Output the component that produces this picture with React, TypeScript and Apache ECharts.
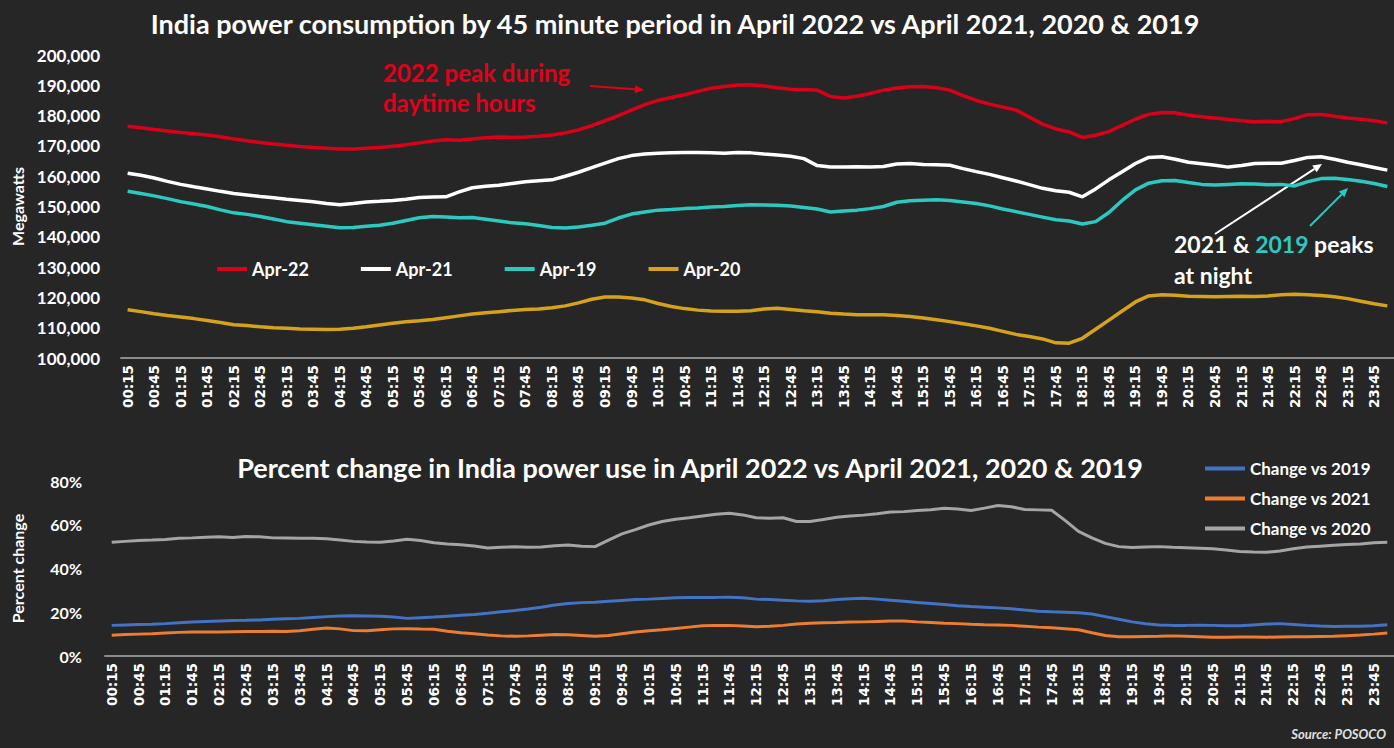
import React, { useEffect, useRef } from "react";
import * as echarts from "echarts";

// 15-minute periods from 00:15 to 24:00
const periods: string[] = (() => {
  const out: string[] = [];
  for (let i = 0; i < 96; i++) {
    const m = 15 + 15 * i;
    const h = Math.floor(m / 60);
    const mm = m % 60;
    out.push(String(h).padStart(2, "0") + ":" + String(mm).padStart(2, "0"));
  }
  return out;
})();

const powerLegend = ["Apr-22", "Apr-21", "Apr-19", "Apr-20"];
const changeLegend = ["Change vs 2019", "Change vs 2021", "Change vs 2020"];

const apr22 = [
  176500, 176000, 175400, 174900, 174400, 174000, 173600, 173000, 172300, 171700,
  171100, 170600, 170200, 169800, 169500, 169200, 169000, 169000, 169200, 169500,
  169900, 170400, 171000, 171600, 172000, 171900, 172300, 172700, 172900, 172800,
  172900, 173200, 173600, 174300, 175300, 176700, 178300, 180000, 181800, 183600,
  185000, 186000, 186900, 188000, 189000, 189600, 190100, 190200, 189800, 189200,
  188700, 188600, 188400, 186300, 185800, 186400, 187300, 188400, 189100, 189500,
  189600, 189200, 188400, 186600, 185000, 183800, 182800, 181800, 179500, 177200,
  175600, 174600, 172800, 173500, 174700, 176800, 178800, 180400, 181000, 180900,
  180100, 179600, 179200, 178700, 178300, 178000, 178100, 178000, 179000, 180300,
  180400, 179800, 179200, 178800, 178300, 177600,
];

const apr21 = [
  161000, 160300, 159400, 158300, 157300, 156500, 155800, 155000, 154300, 153800,
  153300, 152900, 152400, 152000, 151600, 151000, 150600, 151000, 151500, 151700,
  152000, 152400, 153000, 153100, 153200, 154800, 156200, 156700, 157000, 157600,
  158200, 158500, 158800, 160000, 161300, 162800, 164300, 165800, 166800, 167300,
  167600, 167700, 167800, 167800, 167700, 167600, 167800, 167700, 167300, 167000,
  166600, 165800, 163500, 163000, 163000, 163100, 163000, 163200, 164000, 164200,
  163900, 163800, 163600, 162500, 161500, 160600, 159500, 158400, 157200, 156000,
  155200, 154700, 153200, 155800, 158800, 161500, 164200, 166200, 166400, 165600,
  164600, 164100, 163600, 163000, 163500, 164200, 164300, 164300, 165200, 166200,
  166400, 165600, 164600, 163800, 162900, 162000,
];

const apr19 = [
  155000, 154300, 153500, 152600, 151600, 150800, 150000, 148900, 147900, 147400,
  146700, 145900, 145000, 144500, 144000, 143500, 143000, 143100, 143500, 143800,
  144500, 145400, 146300, 146700, 146500, 146300, 146400, 145800, 145200, 144600,
  144300, 143700, 143100, 142900, 143200, 143800, 144500, 146200, 147500, 148200,
  148800, 149000, 149300, 149500, 149800, 150000, 150300, 150600, 150500, 150400,
  150200, 149700, 149200, 148200, 148500, 148800, 149300, 150000, 151400, 151900,
  152100, 152200, 152000, 151500, 151000, 150200, 149200, 148300, 147400, 146500,
  145600, 145200, 144200, 145000, 148000, 152000, 155500, 157700, 158500, 158600,
  157900, 157300, 157100, 157300, 157500, 157400, 157200, 157300, 156800, 158200,
  159200, 159300, 158900, 158300, 157600, 156600,
];

const apr20 = [
  115900, 115300, 114600, 114000, 113500, 113000, 112400, 111700, 111000, 110700,
  110300, 110000, 109800, 109600, 109500, 109400, 109500, 109800, 110300, 110900,
  111500, 112000, 112300, 112700, 113300, 113900, 114500, 114900, 115300, 115700,
  116000, 116200, 116600, 117200, 118200, 119400, 120100, 120100, 119800, 119200,
  118000, 117000, 116300, 115800, 115500, 115400, 115400, 115600, 116200, 116400,
  116000, 115600, 115300, 114800, 114500, 114300, 114300, 114300, 114000, 113700,
  113200, 112600, 112000, 111300, 110600, 109800, 108800, 107800, 107100, 106300,
  105000, 104900, 106500, 109500, 112500, 115500, 118500, 120500, 120900, 120700,
  120400, 120300, 120200, 120300, 120400, 120300, 120500, 120900, 121000, 120900,
  120600, 120200, 119600, 118700, 117900, 117200,
];

const changeVs2019 = [
  14.0, 14.2, 14.4, 14.5, 14.8, 15.2, 15.5, 15.8, 16.0, 16.2,
  16.3, 16.5, 16.8, 17.0, 17.2, 17.6, 18.0, 18.3, 18.4, 18.3,
  18.2, 17.8, 17.2, 17.5, 17.8, 18.2, 18.6, 19.0, 19.5, 20.2,
  20.8, 21.5, 22.3, 23.3, 24.0, 24.4, 24.6, 25.0, 25.4, 25.8,
  26.0, 26.3, 26.6, 26.7, 26.8, 26.8, 26.9, 26.6, 26.0, 25.8,
  25.5, 25.2, 25.0, 25.3, 25.8, 26.2, 26.4, 26.0, 25.5, 25.0,
  24.5, 24.0, 23.5, 23.0, 22.6, 22.3, 22.0, 21.6, 21.0, 20.5,
  20.2, 20.0, 19.8, 19.2, 18.0, 16.8, 15.6, 14.7, 14.2, 14.0,
  14.0, 14.1, 14.0, 13.8, 13.8, 14.2, 14.6, 14.8, 14.4, 14.0,
  13.7, 13.5, 13.6, 13.6, 13.8, 14.3,
];

const changeVs2021 = [
  9.5, 9.8, 10.0, 10.2, 10.5, 10.8, 11.0, 11.0, 11.0, 11.1,
  11.2, 11.2, 11.3, 11.2, 11.5, 12.2, 12.8, 12.4, 11.6, 11.5,
  12.0, 12.4, 12.5, 12.3, 12.2, 11.3, 10.6, 10.2, 9.6, 9.2,
  9.0, 9.2, 9.5, 9.8, 9.7, 9.4, 9.0, 9.4, 10.2, 11.0,
  11.5, 12.0, 12.6, 13.2, 13.8, 14.0, 14.0, 13.7, 13.4, 13.6,
  14.0, 14.6, 15.0, 15.2, 15.3, 15.5, 15.6, 15.8, 16.0, 16.0,
  15.6, 15.3, 15.0, 14.8, 14.5, 14.3, 14.2, 14.0, 13.6, 13.2,
  12.9, 12.5, 12.0, 10.6, 9.4, 8.8, 8.8, 8.9, 9.0, 9.2,
  9.0, 8.8, 8.6, 8.6, 8.7, 8.7, 8.6, 8.7, 8.8, 8.8,
  8.9, 9.0, 9.3, 9.6, 10.0, 10.5,
];

const changeVs2020 = [
  52.0, 52.4, 52.8, 53.0, 53.3, 53.8, 54.0, 54.3, 54.5, 54.2,
  54.6, 54.5, 54.0, 53.9, 53.8, 53.8, 53.6, 53.0, 52.4, 52.1,
  52.0, 52.6, 53.4, 52.8, 51.8, 51.2, 50.9, 50.3, 49.4, 49.7,
  49.9, 49.7, 49.8, 50.4, 50.7, 50.2, 50.0, 53.0, 55.8, 57.8,
  59.9, 61.5, 62.5, 63.2, 64.0, 64.8, 65.3, 64.5, 63.2, 63.0,
  63.2, 61.5, 61.5, 62.4, 63.4, 64.0, 64.4, 65.0, 65.8, 66.0,
  66.5, 66.9, 67.5, 67.2, 66.5, 67.6, 68.8, 68.2, 67.0, 66.8,
  66.6, 62.0, 57.0, 54.0, 51.5, 50.0, 49.6, 49.8, 50.0, 49.7,
  49.5, 49.3, 49.0, 48.5, 47.8, 47.5, 47.4, 48.0, 49.0, 49.8,
  50.2, 50.6, 51.0, 51.2, 51.8, 52.0,
];

const C = {
  bg: "#262626",
  red: "#d9001b",
  white: "#ffffff",
  cyan: "#2cc9c1",
  gold: "#d6a21c",
  blue: "#4472c4",
  orange: "#ed7d31",
  gray: "#a5a5a5",
  axis: "#8c8c8c",
};

const FONT = "Lato";

function arrow(x1: number, y1: number, x2: number, y2: number, color: string, w = 2) {
  const a = Math.atan2(y2 - y1, x2 - x1);
  const L = 9;
  const H = 4;
  const bx = x2 - L * Math.cos(a);
  const by = y2 - L * Math.sin(a);
  const p1 = [bx + H * Math.sin(a), by - H * Math.cos(a)];
  const p2 = [bx - H * Math.sin(a), by + H * Math.cos(a)];
  return [
    { type: "line", silent: true, shape: { x1, y1, x2: bx, y2: by }, style: { stroke: color, lineWidth: w } },
    { type: "polygon", silent: true, shape: { points: [[x2, y2], p1, p2] }, style: { fill: color } },
  ];
}

export default function App() {
  const ref = useRef<HTMLDivElement>(null);

  useEffect(() => {
    if (!ref.current) return;
    const chart = echarts.init(ref.current, null, { renderer: "svg" });

    const xLabel = {
      interval: 1,
      rotate: 90,
      color: "#ffffff",
      fontWeight: "bold" as const,
      fontSize: 13.5,
      fontFamily: "DejaVu Sans",
      margin: 7,
    };

    const lineSeries = (name: string, data: number[], color: string, idx: number, width: number) => ({
      name,
      type: "line",
      xAxisIndex: idx,
      yAxisIndex: idx,
      data,
      symbol: "none",
      showSymbol: false,
      smooth: false,
      lineStyle: { color, width },
      itemStyle: { color },
    });

    const option: any = {
      animation: false,
      backgroundColor: C.bg,
      textStyle: { fontFamily: FONT },
      grid: [
        { left: 121, right: -3, top: 55, height: 303, containLabel: false },
        { left: 105, right: -3, top: 481, height: 175, containLabel: false },
      ],
      xAxis: [
        {
          type: "category",
          gridIndex: 0,
          data: periods,
          boundaryGap: true,
          axisLine: { lineStyle: { color: C.axis, width: 2 } },
          axisTick: { show: false },
          axisLabel: xLabel,
          splitLine: { show: false },
        },
        {
          type: "category",
          gridIndex: 1,
          data: periods,
          boundaryGap: true,
          axisLine: { lineStyle: { color: C.axis, width: 2 } },
          axisTick: { show: false },
          axisLabel: xLabel,
          splitLine: { show: false },
        },
      ],
      yAxis: [
        {
          type: "value",
          gridIndex: 0,
          min: 100000,
          max: 200000,
          interval: 10000,
          axisLine: { show: false },
          axisTick: { show: false },
          splitLine: { show: false },
          axisLabel: {
            color: "#ffffff",
            fontWeight: "bold",
            fontSize: 17,
            fontFamily: FONT,
            margin: 21,
            formatter: (v: number) => v.toLocaleString("en-US"),
          },
          name: "Megawatts",
          nameLocation: "middle",
          nameGap: 96,
          nameRotate: 90,
          nameTextStyle: { color: "#ffffff", fontWeight: "bold", fontSize: 16, fontFamily: FONT },
        },
        {
          type: "value",
          gridIndex: 1,
          min: 0,
          max: 80,
          interval: 20,
          axisLine: { show: false },
          axisTick: { show: false },
          splitLine: { show: false },
          axisLabel: {
            color: "#ffffff",
            fontWeight: "bold",
            fontSize: 16,
            fontFamily: FONT,
            margin: 23,
            formatter: "{value}%",
          },
          name: "Percent change",
          nameLocation: "middle",
          nameGap: 80,
          nameRotate: 90,
          nameTextStyle: { color: "#ffffff", fontWeight: "bold", fontSize: 16, fontFamily: FONT },
        },
      ],
      legend: [
        {
          data: powerLegend,
          left: 212,
          top: 255,
          icon: "rect",
          itemWidth: 30,
          itemHeight: 4,
          itemGap: 52,
          textStyle: { color: "#ffffff", fontSize: 18, fontWeight: "bold", fontFamily: FONT },
        },
        {
          data: changeLegend,
          orient: "vertical",
          left: 1200,
          top: 455,
          icon: "rect",
          itemWidth: 40,
          itemHeight: 4,
          itemGap: 13,
          textStyle: { color: "#ffffff", fontSize: 17, fontWeight: "bold", fontFamily: FONT },
        },
      ],
      series: [
        lineSeries("Apr-22", apr22, C.red, 0, 3.5),
        lineSeries("Apr-21", apr21, C.white, 0, 3.5),
        lineSeries("Apr-19", apr19, C.cyan, 0, 3.5),
        lineSeries("Apr-20", apr20, C.gold, 0, 3.5),
        lineSeries("Change vs 2019", changeVs2019, C.blue, 1, 3),
        lineSeries("Change vs 2021", changeVs2021, C.orange, 1, 3),
        lineSeries("Change vs 2020", changeVs2020, C.gray, 1, 3),
      ],
      graphic: [
        {
          type: "text",
          silent: true,
          x: 675,
          y: 23,
          style: {
            text: "India power consumption by 45 minute period in April 2022 vs April 2021, 2020 & 2019",
            fill: "#ffffff",
            font: `bold 27px ${FONT}`,
            textAlign: "center",
            textVerticalAlign: "middle",
          },
        },
        {
          type: "text",
          silent: true,
          x: 690,
          y: 467,
          style: {
            text: "Percent change in India power use in April 2022 vs April 2021, 2020 & 2019",
            fill: "#ffffff",
            font: `bold 27px ${FONT}`,
            textAlign: "center",
            textVerticalAlign: "middle",
          },
        },
        {
          type: "text",
          silent: true,
          x: 383,
          y: 57,
          style: {
            text: "2022 peak during\ndaytime hours",
            fill: "#e3001b",
            font: `bold 24px ${FONT}`,
            lineHeight: 30,
            textAlign: "left",
            textVerticalAlign: "top",
          },
        },
        {
          type: "text",
          silent: true,
          x: 1174,
          y: 228,
          style: {
            text: "2021 & {c|2019} peaks\nat night",
            fill: "#ffffff",
            font: `bold 23px ${FONT}`,
            lineHeight: 31,
            textAlign: "left",
            textVerticalAlign: "top",
            rich: {
              c: { fill: C.cyan, font: `bold 23px ${FONT}`, lineHeight: 31 },
            },
          },
        },
        ...arrow(590, 86, 644, 90, "#e3001b", 2),
        ...arrow(1215, 234, 1322, 164, "#ffffff", 2),
        ...arrow(1310, 226, 1348, 188, C.cyan, 2),
        {
          type: "text",
          silent: true,
          x: 1386,
          y: 734,
          style: {
            text: "Source: POSOCO",
            fill: "#e0e0e0",
            font: `italic bold 13px ${FONT}`,
            textAlign: "right",
            textVerticalAlign: "middle",
          },
        },
      ],
    };

    chart.setOption(option);
    return () => chart.dispose();
  }, []);

  return (
    <div
      ref={ref}
      style={{ position: "fixed", left: 0, top: 0, width: 1394, height: 748, background: C.bg }}
    />
  );
}
